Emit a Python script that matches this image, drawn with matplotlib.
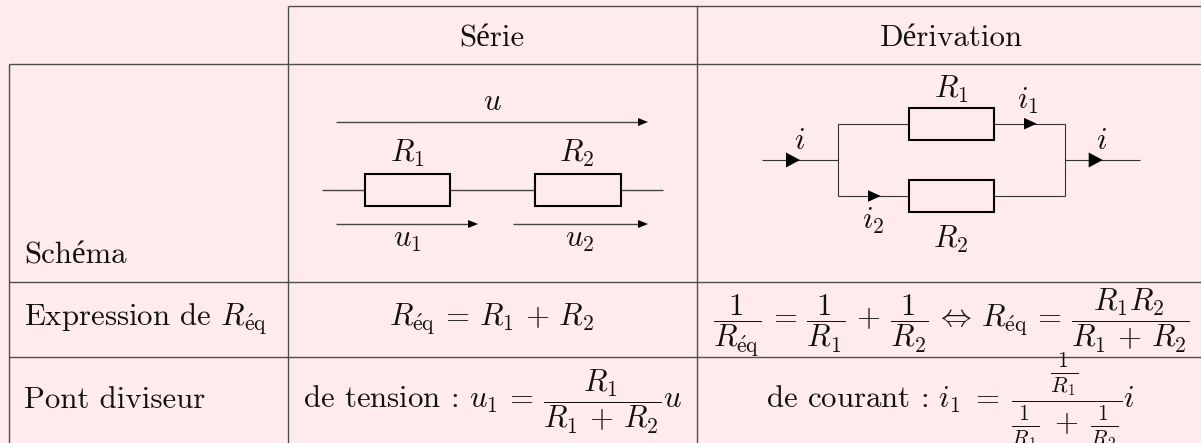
import matplotlib
matplotlib.use("Agg")
import matplotlib.pyplot as plt
from matplotlib.patches import Rectangle, Polygon

plt.rcParams['mathtext.fontset'] = 'cm'
plt.rcParams['font.family'] = ['cmr10', 'Liberation Serif', 'DejaVu Serif']
plt.rcParams['axes.unicode_minus'] = False

col_headers = ["Série", "Dérivation"]
row_labels = ["Schéma", r"Expression de $R_{\mathrm{\acute{e}q}}$", "Pont diviseur"]
req_serie = r"$R_{\mathrm{\acute{e}q}}\,=\,R_1\,+\,R_2$"
req_deriv = r"$\dfrac{1}{R_{\mathrm{\acute{e}q}}}\,=\,\dfrac{1}{R_1}\,+\,\dfrac{1}{R_2}\,\Leftrightarrow\,R_{\mathrm{\acute{e}q}}\,=\,\dfrac{R_1 R_2}{R_1\,+\,R_2}$"
pont_serie = r"de tension : $u_1\,=\,\dfrac{R_1}{R_1\,+\,R_2}u$"
pont_deriv = r"de courant : $i_1\;=\;\dfrac{\frac{1}{R_1}}{\frac{1}{R_1}\;+\;\frac{1}{R_2}}i$"

BG = '#ffebec'
LINE = '#4d4d4d'
FS = 22.2

fig = plt.figure(figsize=(12.01, 4.43), dpi=100, facecolor=BG)
ax = fig.add_axes([0, 0, 1, 1])
ax.set_xlim(0, 1201)
ax.set_ylim(443, 0)
ax.axis('off')


def wire(xs, ys, lw=0.8, color='#333333'):
    ax.plot(xs, ys, color=color, lw=lw, solid_capstyle='butt', solid_joinstyle='miter')


def resistor(x0, x1, y0, y1):
    ax.add_patch(Rectangle((x0, y0), x1 - x0, y1 - y0, fc=BG, ec='black', lw=1.5, zorder=3))


def head(base, tip, y, half):
    ax.add_patch(Polygon([(base, y - half), (tip, y), (base, y + half)], fc='black', ec='none', zorder=4))


def label(x, y, s, ha='center', size=FS):
    ax.text(x, y, s, ha=ha, va='baseline', fontsize=size, color='#111111')


# table rules
wire([288, 1201], [6, 6], 1.0, LINE)
wire([8.5, 1201], [63.5, 63.5], 1.0, LINE)
wire([8.5, 1201], [281.7, 281.7], 1.0, LINE)
wire([8.5, 1201], [357, 357], 1.0, LINE)
wire([8.5, 8.5], [63.5, 443], 1.0, LINE)
wire([288, 288], [6, 443], 1.0, LINE)
wire([697.3, 697.3], [6, 443], 1.0, LINE)

# text of the table
label(492, 46, col_headers[0])
label(951, 46, col_headers[1])
label(24.5, 264, row_labels[0], ha='left')
label(24.5, 326, row_labels[1], ha='left')
label(24.5, 408, row_labels[2], ha='left')
label(492, 326, req_serie)
label(951, 326, req_deriv)
label(492, 408, pont_serie)
label(950, 408, pont_deriv)

# serie circuit
wire([336, 644], [122, 122], 1.0, '#444444')
head(638, 648, 122, 4)
wire([322, 663], [190, 190], 1.0, '#444444')
resistor(364.7, 450, 174, 206)
resistor(535, 620.5, 174, 206)
wire([336, 474], [224, 224], 1.0, '#444444')
head(468, 478, 224, 4)
wire([513, 644], [224, 224], 1.0, '#444444')
head(638, 648, 224, 4)
label(492, 110, r"$u$")
label(407, 162, r"$R_1$")
label(577, 162, r"$R_2$")
label(407, 247, r"$u_1$")
label(580, 247, r"$u_2$")

# derivation circuit
wire([762, 837.7], [160, 160])
wire([837.7, 837.7, 908.7], [196, 123.7, 123.7])
wire([837.7, 908.7], [196, 196])
wire([994, 1064.7, 1064.7, 994], [123.7, 123.7, 196, 196])
wire([1064.7, 1140], [160, 160])
resistor(908.7, 994, 108, 139.5)
resistor(908.7, 994, 180, 212)
head(786, 800, 160, 7.5)
head(1088.7, 1102.7, 160, 7.5)
head(1024, 1036.7, 123.7, 5.8)
head(868, 880.7, 196, 5.8)
label(951, 98, r"$R_1$")
label(951, 248, r"$R_2$")
label(800, 149, r"$i$")
label(1102, 149, r"$i$")
label(1028, 109, r"$i_1$")
label(873, 229, r"$i_2$")

fig.savefig("out.png", dpi=100, facecolor=BG)
